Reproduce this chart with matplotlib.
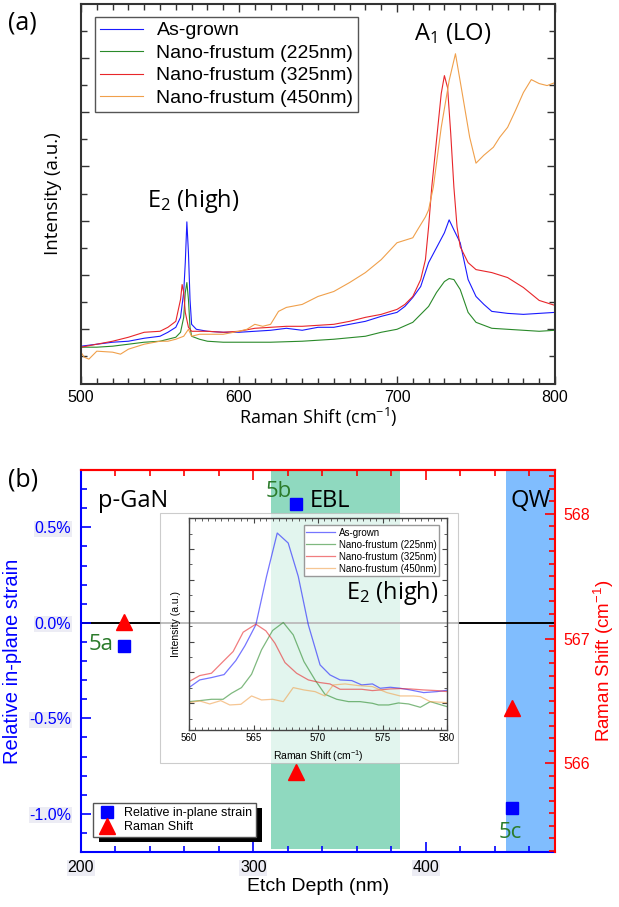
import matplotlib
matplotlib.use('Agg')
import matplotlib.pyplot as plt
from matplotlib.lines import Line2D
from matplotlib.patches import Rectangle
from matplotlib.ticker import MultipleLocator, FuncFormatter
from matplotlib.transforms import IdentityTransform

plt.rcParams['font.family'] = ['Liberation Sans', 'DejaVu Sans']
plt.rcParams['mathtext.default'] = 'regular'
plt.rcParams['axes.unicode_minus'] = False

# ---- panel (a): Raman spectra (a.u.) ----
labels = ['As-grown', 'Nano-frustum (225nm)', 'Nano-frustum (325nm)', 'Nano-frustum (450nm)']
colors = ['#1a1aff', '#2a8a2a', '#e8262a', '#f0a04b']

asg_x = [500, 510, 520, 530, 540, 550, 555, 560, 563, 565, 566, 567, 568, 569, 570, 573, 580, 590, 600, 610,
         620, 630, 640, 650, 660, 670, 680, 690, 700, 705, 710, 715, 720, 725, 730, 733, 736, 740, 745, 750,
         755, 760, 770, 780, 790, 800]
asg_y = [38, 40, 42, 43, 46, 48, 52, 57, 67, 92, 122, 163, 132, 85, 60, 55, 53, 52, 52, 53,
         54, 56, 54, 57, 57, 60, 63, 68, 72, 78, 87, 98, 122, 137, 152, 165, 155, 142, 105, 88,
         80, 73, 71, 70, 71, 72]

n225_x = [500, 510, 520, 530, 540, 550, 560, 563, 565, 566, 567, 568, 569, 570, 575, 580, 590, 600, 620, 640,
          660, 680, 690, 700, 710, 720, 725, 730, 733, 736, 740, 745, 750, 760, 770, 780, 790, 800]
n225_y = [37, 37, 38, 40, 42, 43, 47, 52, 67, 92, 102, 85, 57, 48, 45, 43, 42, 42, 42, 43,
          45, 48, 52, 55, 62, 78, 92, 103, 106, 105, 95, 72, 62, 56, 55, 54, 53, 54]

n325_x = [500, 510, 520, 530, 540, 550, 555, 560, 563, 564, 565, 566, 568, 570, 580, 590, 600, 610, 620, 630,
          640, 650, 660, 670, 680, 690, 700, 705, 710, 715, 718, 720, 722, 725, 728, 730, 732, 734, 736, 738,
          740, 745, 750, 760, 770, 780, 790, 800]
n325_y = [37, 40, 43, 47, 52, 53, 57, 63, 85, 100, 92, 72, 57, 53, 53, 52, 53, 56, 57, 58,
          58, 59, 60, 63, 67, 70, 75, 80, 88, 105, 125, 158, 198, 245, 292, 310, 298, 252, 198, 158,
          138, 122, 115, 112, 107, 97, 84, 79]

n450_x = [500, 502, 505, 510, 520, 525, 530, 540, 550, 555, 560, 565, 568, 570, 575, 580, 590, 600, 605, 610,
          615, 620, 625, 630, 640, 650, 660, 670, 680, 690, 700, 710, 713, 718, 720, 723, 728, 733, 737, 741,
          746, 750, 755, 761, 765, 770, 775, 780, 785, 790, 795, 800]
n450_y = [32, 27, 25, 33, 32, 30, 35, 40, 43, 43, 45, 48, 55, 48, 50, 50, 50, 53, 55, 60,
          58, 60, 73, 77, 80, 88, 93, 102, 112, 125, 142, 147, 155, 168, 175, 198, 258, 305, 332, 295,
          248, 222, 230, 238, 248, 258, 275, 293, 306, 302, 300, 303]

# ---- panel (b): strain / Raman shift vs etch depth ----
depth = [225, 325, 450]
strain = [-0.12, 0.62, -0.97]          # %
e2_shift = [567.13, 565.93, 566.44]    # cm-1
point_tags = ['5a', '5b', '5c']
ebl_range = (310, 385)
qw_start = 446.5

# ---- inset: E2(high) zoom ----
in_asg_x = [560.0, 560.83, 561.74, 562.72, 563.63, 564.33, 565.18, 566.01, 566.84, 567.69, 568.47, 569.25, 570.16,
            570.93, 571.71, 572.62, 573.39, 574.22, 574.82, 575.6, 576.37, 577.15, 578.19, 579.22, 580.0]
in_asg_y = [127, 150, 157, 166, 208, 252, 315, 460, 590, 560, 460, 315, 195,
            165, 150, 148, 135, 138, 125, 128, 125, 120, 112, 115, 119]
in_225_x = [560.0, 560.83, 561.74, 562.64, 563.29, 564.07, 564.85, 565.62, 566.48, 567.31, 568.08, 568.91, 569.77,
            570.54, 571.45, 572.36, 573.26, 574.22, 574.69, 575.47, 576.24, 577.02, 577.93, 578.7, 580.0]
in_225_y = [85, 88, 92, 92, 110, 127, 167, 240, 298, 322, 285, 205, 150,
            107, 92, 85, 85, 80, 75, 75, 81, 78, 68, 85, 70]
in_325_x = [560.0, 560.83, 561.74, 562.64, 563.42, 564.2, 565.18, 565.96, 566.66, 567.44, 568.34, 569.25, 570.16,
            570.93, 571.71, 572.62, 573.39, 574.22, 574.82, 575.6, 576.37, 577.15, 578.19, 579.22, 580.0]
in_325_y = [145, 163, 170, 205, 235, 293, 317, 297, 260, 202, 170, 150, 142,
            138, 122, 122, 122, 118, 120, 123, 124, 123, 120, 118, 115]
in_450_x = [560.0, 560.83, 561.61, 562.46, 563.16, 564.02, 564.85, 565.62, 566.48, 567.31, 568.08, 568.91, 569.77,
            570.54, 571.19, 572.1, 573.13, 574.22, 575.34, 576.37, 577.41, 577.93, 578.7, 580.0]
in_450_y = [82, 87, 78, 88, 75, 77, 102, 90, 92, 85, 127, 120, 115,
            102, 135, 138, 133, 130, 112, 102, 102, 100, 85, 82]

W, H = 619, 907


def fbox(x0, y0, x1, y1):
    # pixel box measured from the top-left -> figure fraction rect
    return [x0 / W, 1 - y1 / H, (x1 - x0) / W, (y1 - y0) / H]


fig = plt.figure(figsize=(W / 100, H / 100), dpi=100)
ann = 'Open Sans'

# ================= (a) =================
axa = fig.add_axes(fbox(81, 4, 555, 384))
spectra = [(asg_x, asg_y), (n225_x, n225_y), (n325_x, n325_y), (n450_x, n450_y)]
for (sx, sy), c, lab in zip(spectra, colors, labels):
    axa.plot(sx, sy, color=c, lw=0.8, label=lab)
axa.set_xlim(500, 800)
axa.set_ylim(0, 382)
axa.xaxis.set_major_locator(MultipleLocator(100))
axa.xaxis.set_minor_locator(MultipleLocator(10))
axa.set_yticks([55 + 54.6 * k for k in range(6)])
axa.set_yticks([27.7 + 54.6 * k for k in range(7)], minor=True)
axa.tick_params(which='both', direction='in', top=True, right=True, labelleft=False,
                labelsize=11.5, color='#333333', pad=4)
axa.tick_params(which='major', length=6, width=1)
axa.tick_params(which='minor', length=4, width=1)
for s in axa.spines.values():
    s.set_color('#333333')
    s.set_linewidth(1.5)
axa.set_xlabel('Raman Shift (cm$^{-1}$)', fontsize=13, family=ann, labelpad=1)
axa.set_ylabel('Intensity (a.u.)', fontsize=13.5, family=ann, labelpad=14)
axa.legend(loc='upper left', bbox_to_anchor=(0.03, 0.966), borderaxespad=0, fontsize=14,
           fancybox=False, edgecolor='#555555', framealpha=1, handlelength=2.2,
           handletextpad=0.7, labelspacing=0.25, borderpad=0.25)
axa.text(711, 352, 'A$_1$ (LO)', fontsize=17, family=ann, va='center')
axa.text(542, 184, 'E$_2$ (high)', fontsize=17, family=ann, va='center')
fig.text(8 / W, 1 - 23 / H, '(a)', fontsize=18, family=ann, va='center')

# ================= (b) =================
axb = fig.add_axes(fbox(81, 470, 555, 852))
axb.set_xlim(200, 475)
axb.set_ylim(-1.2, 0.8)
axb.axvspan(*ebl_range, ymin=0.008, ymax=1, color='#8fd9bf', lw=0, zorder=0)
axb.axvspan(qw_start, 475, color='#80bdfe', lw=0, zorder=0)
axb.axhline(0, color='black', lw=1.4, zorder=1)
axb.plot(depth, strain, 's', color='#0000ff', ms=8, zorder=3)

ax2 = axb.twinx()
ax2.set_ylim(565.29, 568.35)
ax2.plot(depth, e2_shift, '^', color='#ff0000', ms=11, zorder=3)

axb.xaxis.set_major_locator(MultipleLocator(100))
axb.xaxis.set_minor_locator(MultipleLocator(20))
axb.yaxis.set_major_locator(MultipleLocator(0.5))
axb.yaxis.set_minor_locator(MultipleLocator(0.1))
axb.yaxis.set_major_formatter(FuncFormatter(lambda v, p: f'{v:.1f}%'))
axb.tick_params(axis='x', which='both', direction='in', color='blue', labelcolor='black',
                labelsize=11.5, pad=6, top=False)
axb.tick_params(axis='y', which='both', direction='in', color='blue', labelcolor='blue',
                labelsize=11.5, pad=7, right=False)
axb.tick_params(which='major', length=7, width=1.2)
axb.tick_params(which='minor', length=4, width=1.2)
ax2.yaxis.set_major_locator(MultipleLocator(1))
ax2.yaxis.set_minor_locator(MultipleLocator(0.1))
ax2.tick_params(axis='y', which='both', direction='in', color='red', labelcolor='red',
                labelsize=11.5, pad=6)
ax2.tick_params(which='major', length=7, width=1.2)
ax2.tick_params(which='minor', length=4, width=1.2)

sec = axb.secondary_xaxis('top')
sec.xaxis.set_major_locator(MultipleLocator(100))
sec.xaxis.set_minor_locator(MultipleLocator(20))
sec.tick_params(which='both', direction='in', color='red', labeltop=False, width=1.2)
sec.tick_params(which='major', length=7)
sec.tick_params(which='minor', length=4)
sec.spines['top'].set_color('red')
sec.spines['top'].set_linewidth(1.5)

for side in ['left', 'bottom']:
    axb.spines[side].set_color('blue')
    axb.spines[side].set_linewidth(1.5)
    ax2.spines[side].set_visible(False)
for side in ['top', 'right']:
    axb.spines[side].set_visible(False)
    ax2.spines[side].set_color('red')
    ax2.spines[side].set_linewidth(1.5)

axb.set_xlabel('Etch Depth (nm)', fontsize=14, labelpad=2)
axb.set_ylabel('Relative in-plane strain', fontsize=14.5, color='blue', labelpad=5)
ax2.set_ylabel('Raman Shift (cm$^{-1}$)', fontsize=13.5, color='red', labelpad=1)

axb.text(210, 0.64, 'p-GaN', fontsize=17, family=ann, va='center')
axb.text(333, 0.64, 'EBL', fontsize=17, family=ann, va='center')
axb.text(449, 0.64, 'QW', fontsize=17, family=ann, va='center', clip_on=False)
tag_pos = [(204.5, -0.115), (307, 0.686), (442.5, -1.10)]
for t, (tx, ty) in zip(point_tags, tag_pos):
    axb.text(tx, ty, t, fontsize=16, family=ann, color='#2b7b2b', va='center')
fig.text(8 / W, 1 - 480 / H, '(b)', fontsize=18, family=ann, va='center')

h1 = Line2D([], [], ls='none', marker='s', color='#0000ff', ms=8)
h2 = Line2D([], [], ls='none', marker='^', color='#ff0000', ms=11)
leg = ax2.legend([h1, h2], ['Relative in-plane strain', 'Raman Shift'], loc='lower left',
                 bbox_to_anchor=(0.025, 0.04), borderaxespad=0, fontsize=9, fancybox=False,
                 edgecolor='#555555', framealpha=1, handlelength=1.7, handletextpad=0.5,
                 borderpad=0.3, labelspacing=0.15)
leg.set_zorder(6)

# ---- inset ----
bg = Rectangle((160 / W, 1 - 763 / H), 298 / W, 250 / H, transform=fig.transFigure,
               fc='white', alpha=0.75, ec='#bbbbbb', lw=0.8, zorder=1)
fig.add_artist(bg)

axi = fig.add_axes(fbox(189, 518, 447, 730))
axi.set_zorder(2)
axi.patch.set_visible(False)
inset = [(in_asg_x, in_asg_y), (in_225_x, in_225_y), (in_325_x, in_325_y), (in_450_x, in_450_y)]
for (sx, sy), c, lab in zip(inset, colors, labels):
    axi.plot(sx, sy, color=c, lw=0.9, alpha=0.6, label=lab)
axi.set_xlim(560, 580)
axi.set_ylim(0, 635)
axi.xaxis.set_major_locator(MultipleLocator(5))
axi.xaxis.set_minor_locator(MultipleLocator(0.5))
axi.set_yticks([80 + 92.4 * k for k in range(6)])
axi.set_yticks([34 + 92.4 * k for k in range(7)], minor=True)
axi.tick_params(which='both', direction='in', top=True, right=True, labelleft=False,
                labelsize=7, color='#444444', pad=2)
axi.tick_params(which='major', length=3.5, width=0.8)
axi.tick_params(which='minor', length=2, width=0.6)
for s in axi.spines.values():
    s.set_color('#444444')
    s.set_linewidth(1)
axi.set_xlabel('Raman Shift (cm$^{-1}$)', fontsize=7.5, labelpad=4)
axi.set_ylabel('Intensity (a.u.)', fontsize=7.5, labelpad=6)
axi.legend(loc='upper right', bbox_to_anchor=(0.97, 0.965), borderaxespad=0, fontsize=7,
           fancybox=False, edgecolor='#999999', framealpha=1, handlelength=3.0,
           handletextpad=0.4, labelspacing=0.2, borderpad=0.25)
axi.text(0.965, 0.646, 'E$_2$ (high)', transform=axi.transAxes, fontsize=17, family=ann,
         ha='right', va='center')

# tick label backdrops and legend drop shadow (b)
fig.canvas.draw()
for lab in axb.get_yticklabels() + axb.get_xticklabels():
    lab.set_bbox(dict(fc='#ececf4', ec='none', pad=0.5))
bb = leg.get_frame().get_window_extent()
shadow = Rectangle((bb.x0 + 6, bb.y0 - 5), bb.width, bb.height, transform=IdentityTransform(),
                   fc='black', ec='none', zorder=5)
shadow.set_clip_on(False)
ax2.add_artist(shadow)

fig.savefig('out.png', dpi=100)
